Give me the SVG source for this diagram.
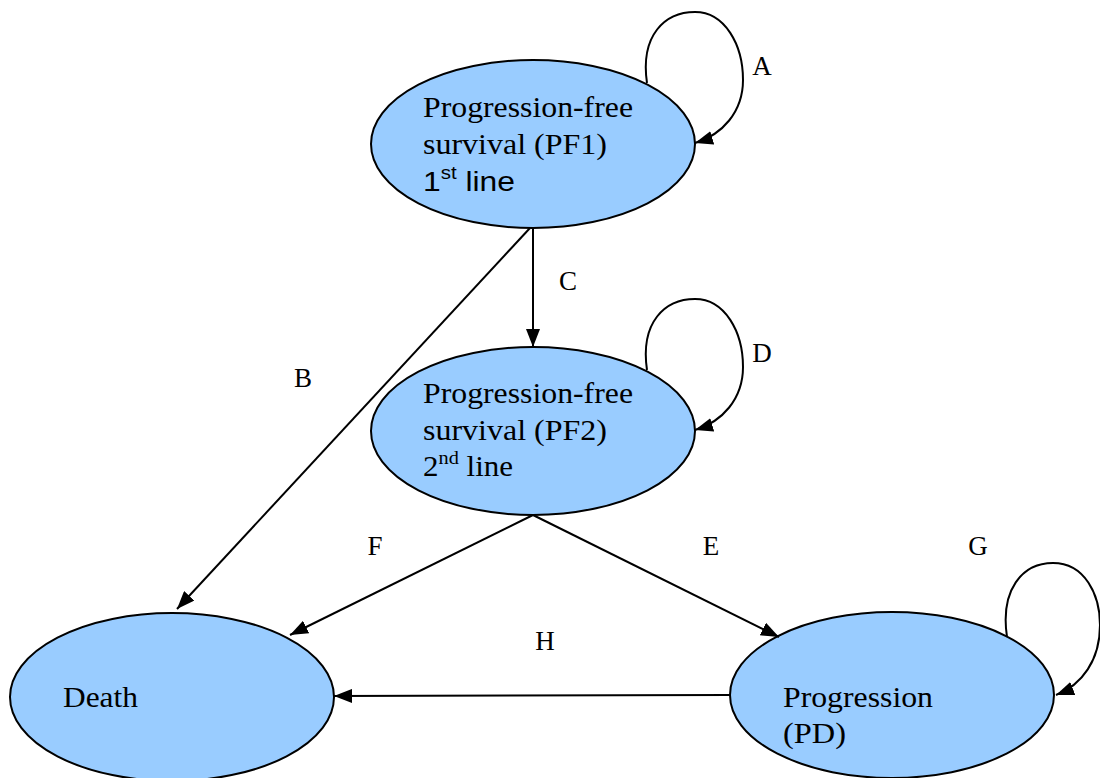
<svg xmlns="http://www.w3.org/2000/svg" width="1100" height="778" viewBox="0 0 1100 778">
<defs>
<marker id="arr" markerUnits="userSpaceOnUse" markerWidth="20" markerHeight="14" refX="18" refY="7" orient="auto">
<path d="M0,0 L18,7 L0,14 Z" fill="#000"/>
</marker>
<style>
.node{fill:#99ccff;stroke:#000;stroke-width:2}
.t{font-family:"Liberation Serif",serif;font-size:29px;fill:#000}
.a{font-family:"Liberation Sans",sans-serif;font-size:28px;fill:#000}
.lbl{font-family:"Liberation Serif",serif;font-size:27px;fill:#000;text-anchor:middle}
.c{fill:none;stroke:#000;stroke-width:2;marker-end:url(#arr)}
</style>
</defs>
<rect width="1100" height="778" fill="#fff"/>
<g id="pf1">
<ellipse class="node" cx="533" cy="144" rx="162" ry="84"/>
<text class="t" x="423" y="117" textLength="210" lengthAdjust="spacingAndGlyphs">Progression-free</text>
<text class="t" x="423" y="154" textLength="184" lengthAdjust="spacingAndGlyphs">survival (PF1)</text>
<text class="a" x="423" y="191" textLength="92" lengthAdjust="spacingAndGlyphs">1<tspan font-size="18" dy="-12">st</tspan><tspan dy="12"> line</tspan></text>
</g>
<g id="pf2">
<ellipse class="node" cx="533" cy="431" rx="162" ry="84"/>
<text class="t" x="423" y="403" textLength="210" lengthAdjust="spacingAndGlyphs">Progression-free</text>
<text class="t" x="423" y="440" textLength="184" lengthAdjust="spacingAndGlyphs">survival (PF2)</text>
<text class="t" x="423" y="476" textLength="90" lengthAdjust="spacingAndGlyphs">2<tspan font-size="19" dy="-12">nd</tspan><tspan dy="12"> line</tspan></text>
</g>
<g id="death">
<ellipse class="node" cx="172" cy="697" rx="162" ry="84"/>
<text class="t" x="63" y="707" textLength="75" lengthAdjust="spacingAndGlyphs">Death</text>
</g>
<g id="pd">
<ellipse class="node" cx="892" cy="695" rx="162" ry="83"/>
<text class="t" x="783" y="707" textLength="150" lengthAdjust="spacingAndGlyphs">Progression</text>
<text class="t" x="783" y="743" textLength="63" lengthAdjust="spacingAndGlyphs">(PD)</text>
</g>
<g id="connectors">
<path class="c" d="M647,83 C640,35 665,12 695,12 C725,12 743,45 743,80 C743,112 722,135 695,143"/>
<path class="c" d="M647,370 C640,322 665,299 695,299 C725,299 743,332 743,367 C743,399 722,422 695,430"/>
<path class="c" d="M1007,637 C1000,590 1022,563 1053,563 C1085,563 1100,595 1100,625 C1100,660 1082,685 1056,695"/>
<path class="c" d="M533,228 L533,347"/>
<path class="c" d="M530,228 L177,609"/>
<path class="c" d="M533,515 L290,635"/>
<path class="c" d="M533,515 L779,637"/>
<path class="c" d="M730,695 L334,696"/>
</g>
<g id="labels">
<text class="lbl" x="762" y="75">A</text>
<text class="lbl" x="303" y="387">B</text>
<text class="lbl" x="568" y="290">C</text>
<text class="lbl" x="762" y="362">D</text>
<text class="lbl" x="711" y="555">E</text>
<text class="lbl" x="375" y="555">F</text>
<text class="lbl" x="978" y="555">G</text>
<text class="lbl" x="545" y="650">H</text>
</g>
</svg>
